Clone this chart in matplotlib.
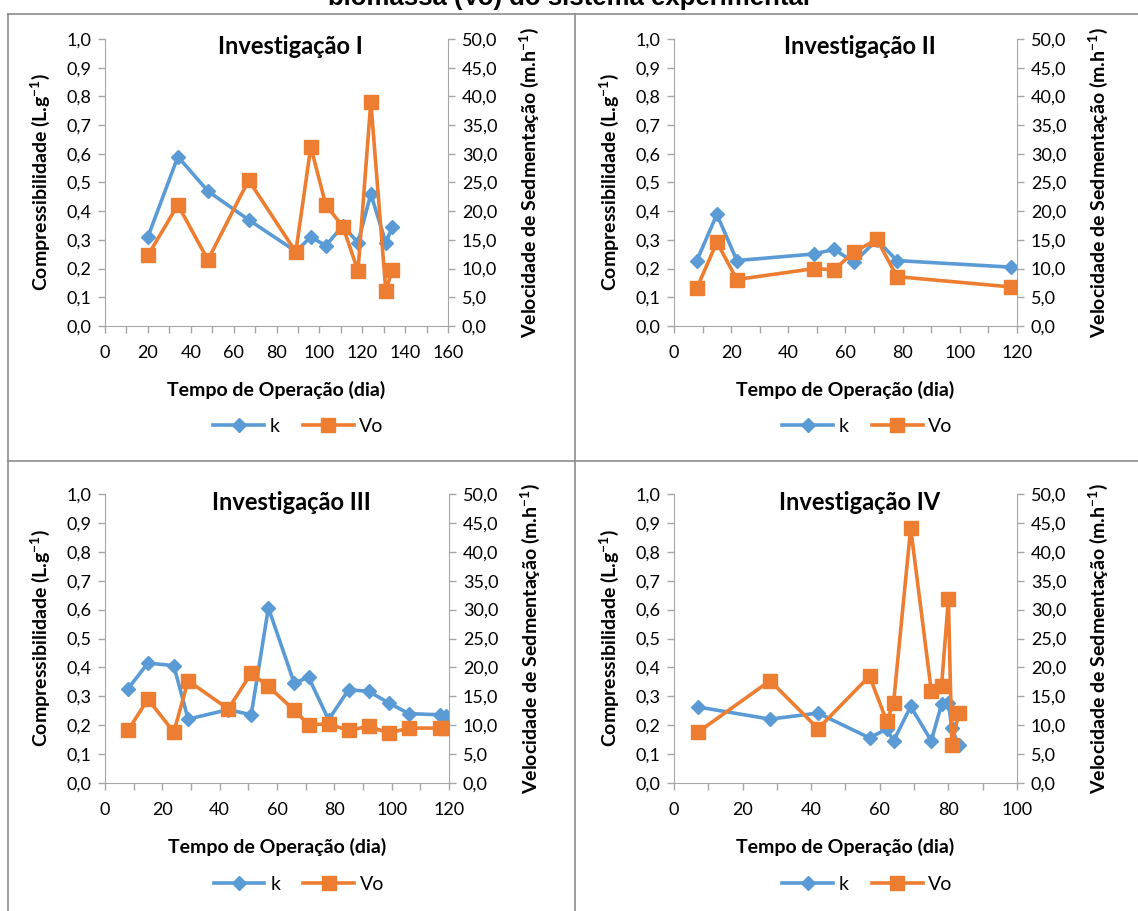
import matplotlib
matplotlib.use("Agg")
import matplotlib.pyplot as plt
from matplotlib.lines import Line2D
from matplotlib.ticker import FuncFormatter, MultipleLocator

plt.rcParams["font.family"] = ["Lato", "DejaVu Sans"]
plt.rcParams["mathtext.fontset"] = "custom"
plt.rcParams["mathtext.rm"] = "Lato"
plt.rcParams["mathtext.bf"] = "Lato:bold"

BLUE = "#5B9BD5"
ORANGE = "#ED7D31"
AXIS_GRAY = "#A6A6A6"
BORDER_GRAY = "#8C8C8C"

# Investigação I
days_1 = [20, 34, 48, 67, 89, 96, 103, 111, 118, 124, 131, 134]
k_1 = [0.31, 0.59, 0.47, 0.37, 0.26, 0.31, 0.28, 0.35, 0.29, 0.46, 0.29, 0.345]
vo_1 = [12.3, 21.1, 11.5, 25.4, 12.9, 31.2, 21.1, 17.3, 9.6, 39.1, 6.1, 9.8]

# Investigação II
days_2 = [8, 15, 22, 49, 56, 63, 71, 78, 118]
k_2 = [0.228, 0.389, 0.228, 0.251, 0.267, 0.222, 0.30, 0.228, 0.205]
vo_2 = [6.6, 14.6, 8.1, 10.0, 9.8, 12.9, 15.1, 8.6, 6.8]

# Investigação III
days_3 = [8, 15, 24, 29, 43, 51, 57, 66, 71, 78, 85, 92, 99, 106, 117, 119]
k_3 = [0.326, 0.415, 0.406, 0.221, 0.254, 0.236, 0.606, 0.346, 0.366, 0.219,
       0.323, 0.317, 0.277, 0.240, 0.236, 0.231]
vo_3 = [9.1, 14.5, 8.8, 17.7, 12.8, 19.0, 16.7, 12.6, 10.1, 10.2,
        9.1, 9.8, 8.65, 9.5, 9.5, 9.6]

# Investigação IV
days_4 = [7, 28, 42, 57, 62, 64, 69, 75, 78, 80, 81, 83]
k_4 = [0.263, 0.221, 0.242, 0.156, 0.187, 0.145, 0.265, 0.146, 0.272, 0.278, 0.19, 0.13]
vo_4 = [8.8, 17.7, 9.4, 18.5, 10.7, 13.8, 44.1, 16.0, 16.8, 31.8, 6.5, 12.1]

PANELS = [
    ("Investigação I", days_1, k_1, vo_1, 160, (105, 448, 39, 326)),
    ("Investigação II", days_2, k_2, vo_2, 120, (674, 1017, 39, 326)),
    ("Investigação III", days_3, k_3, vo_3, 120, (105, 449, 494, 783)),
    ("Investigação IV", days_4, k_4, vo_4, 100, (674, 1017, 494, 783)),
]

W, H = 1138, 911
comma = FuncFormatter(lambda v, _: f"{v:.1f}".replace(".", ","))


def style_axis(ax):
    ax.tick_params(colors=AXIS_GRAY, labelcolor="black", labelsize=13,
                   length=5, width=1, direction="out", which="both", pad=5)


def draw_panel(fig, title, days, k, vo, xmax, box):
    x0, x1, y0, y1 = box
    ax = fig.add_axes([x0 / W, 1 - y1 / H, (x1 - x0) / W, (y1 - y0) / H])
    ax2 = ax.twinx()

    ax.plot(days, k, color=BLUE, lw=2.6, marker="D", ms=7, label="k", zorder=3)
    ax2.plot(days, vo, color=ORANGE, lw=2.6, marker="s", ms=9.5, label="Vo", zorder=3)

    ax.set_xlim(0, xmax)
    ax.set_ylim(0, 1.0)
    ax2.set_ylim(0, 50)
    ax.xaxis.set_major_locator(MultipleLocator(20))
    ax.xaxis.set_minor_locator(MultipleLocator(10))
    ax.yaxis.set_major_locator(MultipleLocator(0.1))
    ax2.yaxis.set_major_locator(MultipleLocator(5))
    ax.yaxis.set_major_formatter(comma)
    ax2.yaxis.set_major_formatter(comma)

    for a in (ax, ax2):
        a.spines["top"].set_visible(False)
        for s in a.spines.values():
            s.set_color(AXIS_GRAY)
        style_axis(a)
    ax.tick_params(axis="x", pad=9)
    ax.spines["right"].set_visible(False)
    ax2.spines["left"].set_visible(False)
    ax2.spines["bottom"].set_visible(False)
    ax.patch.set_visible(False)

    # title sits a little right of the plot centre, as in the chart area
    shift = 14 / (x1 - x0)
    ax.text(0.5 + shift, 1 - 8 / (y1 - y0), title, transform=ax.transAxes,
            ha="center", va="center", fontsize=17, fontweight="bold")
    ax.set_xlabel("Tempo de Operação (dia)", fontsize=14, fontweight="bold", labelpad=14)
    ax.set_ylabel(r"Compressibilidade (L.g$^{\mathbf{-1}}$)", fontsize=14,
                  fontweight="bold", labelpad=10)
    ax2.set_ylabel(r"Velocidade de Sedmentação (m.h$^{\mathbf{-1}}$)", fontsize=14,
                   fontweight="bold", labelpad=14)

    handles = [Line2D([], [], color=BLUE, lw=2.6, marker="D", ms=7),
               Line2D([], [], color=ORANGE, lw=2.6, marker="s", ms=9.5)]
    ax.legend(handles, ["k", "Vo"], loc="center",
              bbox_to_anchor=(0.5 + 22 / (x1 - x0), -0.35),
              ncol=2, frameon=False, fontsize=14, handlelength=2.6,
              handletextpad=0.3, columnspacing=1.2)


fig = plt.figure(figsize=(W / 100, H / 100), dpi=100)

fig.text(0.5, 1 - 5 / H, "biomassa (Vo) do sistema experimental", ha="center",
         va="baseline", fontsize=18.5, fontweight="bold", family="Liberation Sans")

for title, days, k, vo, xmax, box in PANELS:
    draw_panel(fig, title, days, k, vo, xmax, box)


# panel borders
def hline(y, xa, xb):
    fig.add_artist(Line2D([xa / W, xb / W], [1 - y / H, 1 - y / H],
                          color=BORDER_GRAY, lw=1.2))


def vline(x, ya, yb):
    fig.add_artist(Line2D([x / W, x / W], [1 - ya / H, 1 - yb / H],
                          color=BORDER_GRAY, lw=1.2))


hline(14, 8, W)
hline(461, 8, W)
vline(8, 14, H)
vline(575, 14, H)

fig.savefig("out.png", dpi=100)
